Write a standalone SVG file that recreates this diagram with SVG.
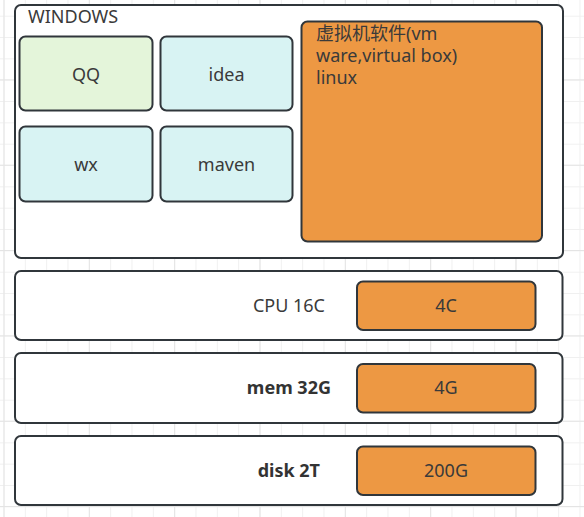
<svg xmlns="http://www.w3.org/2000/svg" width="584" height="517" viewBox="0 0 584 517">
  <defs>
    <pattern id="gridMinor" patternUnits="userSpaceOnUse" x="3.5" y="15.7" width="21.333" height="21.333">
      <path d="M0.5 0 V21.333 M0 0.5 H21.333" fill="none" stroke="#f0f0f0" stroke-width="1"/>
    </pattern>
    <pattern id="gridMajor" patternUnits="userSpaceOnUse" x="3.5" y="-6" width="85.333" height="85.333">
      <path d="M0.5 0 V85.333 M0 0.5 H85.333" fill="none" stroke="#e4e4e4" stroke-width="1"/>
    </pattern>
  </defs>
  <style>
    .box { stroke: #30363b; stroke-width: 2; }
    .white { fill: #ffffff; }
    .orange { fill: #ed9843; }
    .green { fill: #e4f5da; }
    .cyan { fill: #d8f3f3; }
    text { font-family: "Noto Sans", "Noto Sans CJK SC", sans-serif; font-size: 18px; fill: #3a3a3a; }
    .c { text-anchor: middle; }
    .r { text-anchor: end; }
    .b { font-weight: bold; fill: #333333; }
  </style>
  <rect x="0" y="0" width="584" height="517" fill="#ffffff"/>
  <rect x="0" y="0" width="584" height="517" fill="url(#gridMinor)"/>
  <rect x="0" y="0" width="584" height="517" fill="url(#gridMajor)"/>

  <g id="windows">
    <rect class="box white" x="15" y="5" width="548" height="253" rx="6"/>
    <text x="28" y="23">WINDOWS</text>
  </g>
  <g id="qq">
    <rect class="box green" x="19.5" y="36.5" width="133" height="74" rx="6"/>
    <text class="c" x="86" y="81">QQ</text>
  </g>
  <g id="idea">
    <rect class="box cyan" x="160.5" y="36.5" width="132" height="74" rx="6"/>
    <text class="c" x="226.5" y="81">idea</text>
  </g>
  <g id="wx">
    <rect class="box cyan" x="19.5" y="126.5" width="133" height="75" rx="6"/>
    <text class="c" x="86" y="171">wx</text>
  </g>
  <g id="maven">
    <rect class="box cyan" x="160.5" y="126.5" width="132" height="75" rx="6"/>
    <text class="c" x="226.5" y="171">maven</text>
  </g>
  <g id="vm">
    <rect class="box orange" x="301.5" y="21.5" width="240.5" height="220" rx="6"/>
    <text x="316" y="40">虚拟机软件(vm</text>
    <text x="316" y="62">ware,virtual box)</text>
    <text x="316" y="84">linux</text>
  </g>

  <g id="cpu">
    <rect class="box white" x="15" y="271" width="547.5" height="69" rx="6"/>
    <text class="r" x="325" y="312">CPU 16C</text>
  </g>
  <g id="cpu-vm">
    <rect class="box orange" x="357" y="281.5" width="178.5" height="48.5" rx="6"/>
    <text class="c" x="446" y="312">4C</text>
  </g>
  <g id="mem">
    <rect class="box white" x="15" y="353" width="547.5" height="70" rx="6"/>
    <text class="r b" x="331" y="394">mem 32G</text>
  </g>
  <g id="mem-vm">
    <rect class="box orange" x="357" y="364" width="178.5" height="48.5" rx="6"/>
    <text class="c" x="446" y="394">4G</text>
  </g>
  <g id="disk">
    <rect class="box white" x="15" y="436" width="547.5" height="69" rx="6"/>
    <text class="r b" x="320" y="477">disk 2T</text>
  </g>
  <g id="disk-vm">
    <rect class="box orange" x="357" y="446.5" width="178.5" height="48.5" rx="6"/>
    <text class="c" x="446" y="477">200G</text>
  </g>
  <g id="connectors"></g>
</svg>
